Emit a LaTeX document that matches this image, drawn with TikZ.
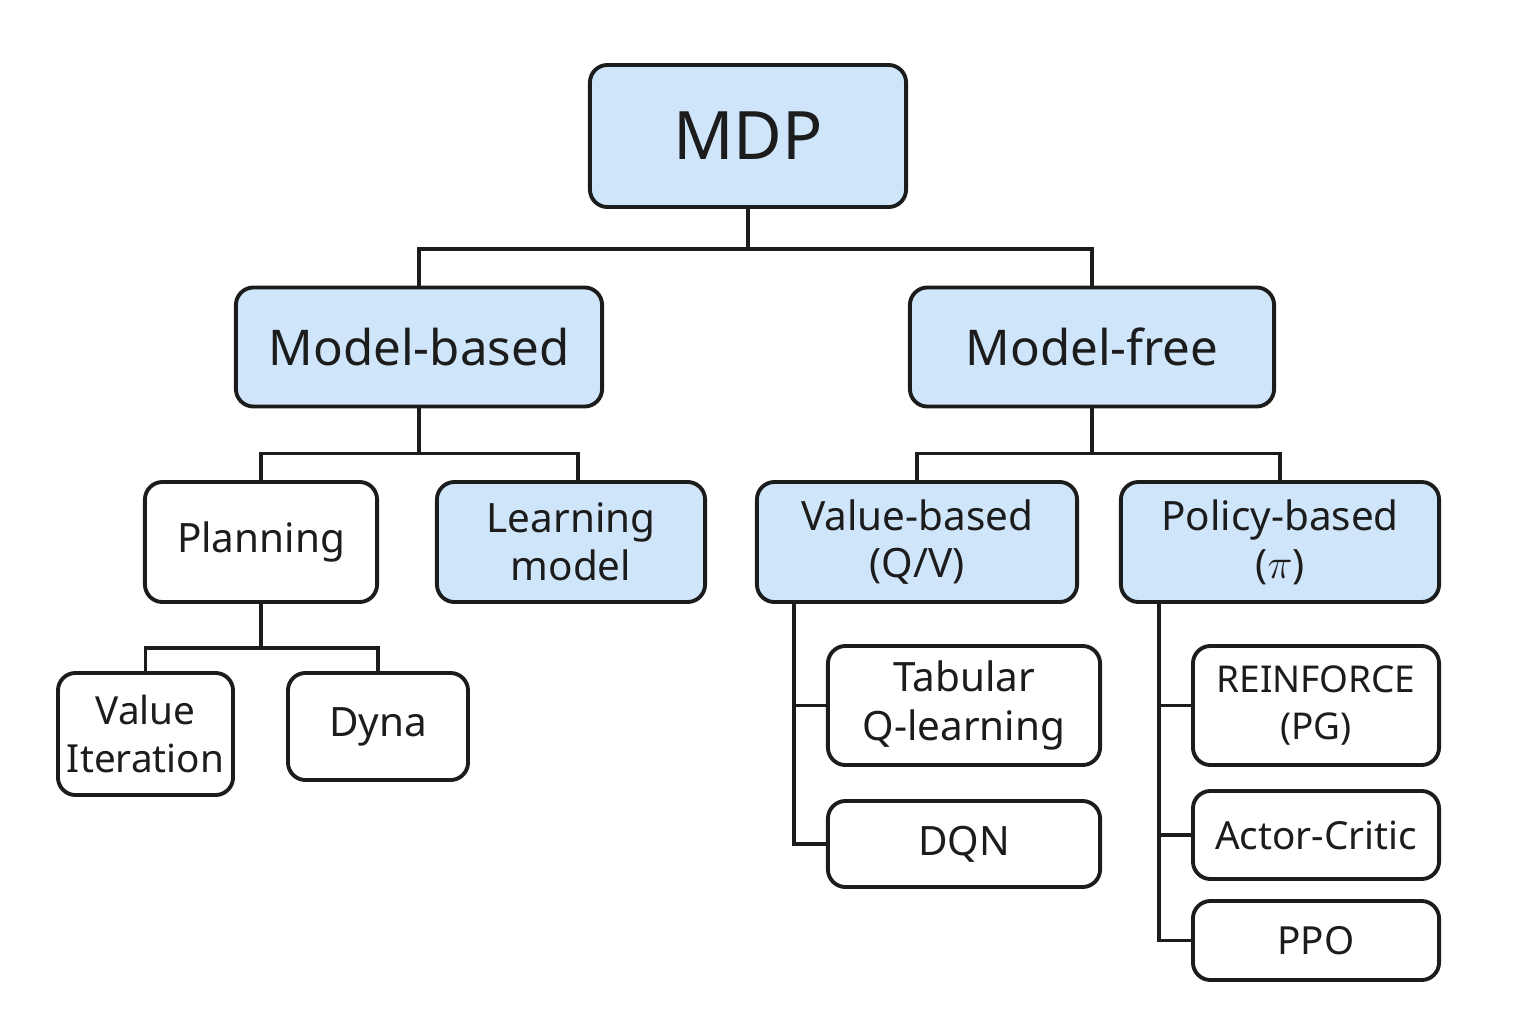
\documentclass[tikz,border=0pt]{standalone}
\usepackage{fontspec}
\setmainfont{Noto Sans}
\usetikzlibrary{positioning}
\definecolor{boxblue}{HTML}{CFE6FA}
\definecolor{inkgray}{HTML}{1C1C1C}

\begin{document}
\begin{tikzpicture}[x=0.01cm,y=-0.01cm]
\tikzstyle{box}=[draw=inkgray, text=inkgray, line width=1.1pt, rounded corners=5pt, align=center, inner sep=0pt, fill=white]
\tikzstyle{bluebox}=[box, fill=boxblue]
\tikzstyle{link}=[draw=inkgray, line width=1.1pt]
\useasboundingbox (0,0) rectangle (1536,1024);
% top level
\node[bluebox, minimum width=3.16cm, minimum height=1.42cm, font=\fontsize{19}{22}\selectfont] (mdp) at (748,136) {MDP};
\node[bluebox, minimum width=3.66cm, minimum height=1.19cm, font=\fontsize{14}{17}\selectfont] (mb) at (419,347) {Model-based};
\node[bluebox, minimum width=3.64cm, minimum height=1.19cm, font=\fontsize{14}{17}\selectfont] (mf) at (1092,347) {Model-free};
% third level
\node[box, minimum width=2.32cm, minimum height=1.20cm, font=\fontsize{11.5}{13.6}\selectfont] (plan) at (261,542) {Planning};
\node[bluebox, minimum width=2.68cm, minimum height=1.20cm, font=\fontsize{11.5}{13.6}\selectfont] (lm) at (571,542) {Learning\\model};
\node[bluebox, minimum width=3.20cm, minimum height=1.20cm, font=\fontsize{11.5}{13.6}\selectfont] (vb) at (917,542) {Value-based\\(Q/V)};
\node[bluebox, minimum width=3.18cm, minimum height=1.20cm, font=\fontsize{11.5}{13.6}\selectfont] (pb) at (1280,542) {Policy-based\\($\pi$)};
% leaves
\node[box, minimum width=1.75cm, minimum height=1.22cm, font=\fontsize{11}{13.8}\selectfont] (vi) at (145.5,734) {Value\\Iteration};
\node[box, minimum width=1.80cm, minimum height=1.07cm, font=\fontsize{11.5}{13.8}\selectfont] (dyna) at (378,726.5) {Dyna};
\node[box, minimum width=2.72cm, minimum height=1.19cm, font=\fontsize{11.5}{13.8}\selectfont] (tab) at (964,705.5) {Tabular\\Q-learning};
\node[box, minimum width=2.72cm, minimum height=0.86cm, font=\fontsize{11.5}{13.8}\selectfont] (dqn) at (964,844) {DQN};
\node[box, minimum width=2.46cm, minimum height=1.19cm, font=\fontsize{10.5}{13.2}\selectfont] (rf) at (1316,705.5) {REINFORCE\\(PG)};
\node[box, minimum width=2.46cm, minimum height=0.88cm, font=\fontsize{11}{13}\selectfont] (ac) at (1316,835) {Actor-Critic};
\node[box, minimum width=2.46cm, minimum height=0.79cm, font=\fontsize{11}{13}\selectfont] (ppo) at (1316,940.5) {PPO};
% tree links
\draw[link] (mdp.south) -- ++(0,40) coordinate (mdpj);
\draw[link] (mb.north) |- (mdpj) -| (mf.north);
\draw[link] (mb.south) -- ++(0,45) coordinate (mbj);
\draw[link] (plan.north) |- (mbj) -| ([xshift=0.07cm]lm.north);
\draw[link] (mf.south) -- ++(0,45) coordinate (mfj);
\draw[link] (vb.north) |- (mfj) -| (pb.north);
\draw[link] (plan.south) -- ++(0,44) coordinate (plj);
\draw[link] (vi.north) |- (plj) -| (dyna.north);
% side rails
\path (vb.south west) ++(39,0) coordinate (vbt);
\draw[link] (vbt) |- (dqn.west);
\draw[link] (vbt |- tab.west) -- (tab.west);
\path (pb.south west) ++(40,0) coordinate (pbt);
\draw[link] (pbt) |- (ppo.west);
\draw[link] (pbt |- rf.west) -- (rf.west);
\draw[link] (pbt |- ac.west) -- (ac.west);
\end{tikzpicture}
\end{document}
